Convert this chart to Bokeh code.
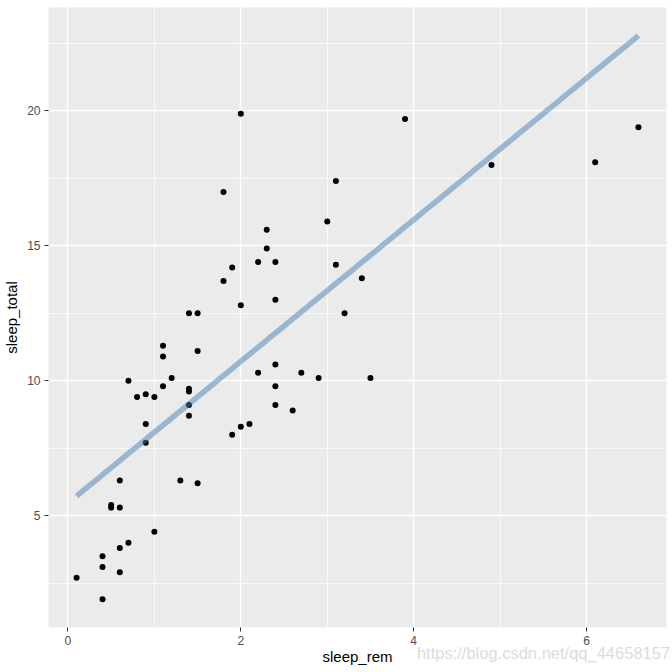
import numpy as np
from bokeh.plotting import figure
from bokeh.models import Range1d, FixedTicker, LinearAxis
from bokeh.embed import file_html
from bokeh.resources import INLINE

# data (msleep: sleep_rem vs sleep_total)
sleep_rem = [0.6, 1.3, 1.5, 0.5, 0.5, 0.6, 1.0, 0.7, 0.6, 0.4, 0.4, 0.6, 0.1, 0.4,
             1.4, 1.5, 1.1, 1.1, 1.5, 0.7, 1.2, 1.1, 1.4, 1.4, 0.8, 0.9, 1.0, 1.4, 1.4, 0.9, 0.9,
             1.8, 2.3, 2.3, 2.2, 2.4, 1.9, 1.8, 2.4, 2.0,
             2.4, 2.2, 2.7, 2.9, 3.5, 2.4, 2.4, 2.6, 2.1, 2.0, 1.9,
             3.1, 3.0, 3.1, 3.4, 3.2,
             2.0, 3.9, 4.9, 6.1, 6.6]
sleep_total = [6.3, 6.3, 6.2, 5.4, 5.3, 5.3, 4.4, 4.0, 3.8, 3.5, 3.1, 2.9, 2.7, 1.9,
               12.5, 12.5, 11.3, 10.9, 11.1, 10.0, 10.1, 9.8, 9.7, 9.6, 9.4, 9.5, 9.4, 9.1, 8.7, 8.4, 7.7,
               17.0, 15.6, 14.9, 14.4, 14.4, 14.2, 13.7, 13.0, 12.8,
               10.6, 10.3, 10.3, 10.1, 10.1, 9.8, 9.1, 8.9, 8.4, 8.3, 8.0,
               17.4, 15.9, 14.3, 13.8, 12.5,
               19.9, 19.7, 18.0, 18.1, 19.4]
x_ticks = [0, 2, 4, 6]
x_minor = [1, 3, 5]
y_ticks = [5, 10, 15, 20]
y_minor = [2.5, 7.5, 12.5, 17.5, 22.5]
watermark = "https://blog.csdn.net/qq_44658157"

x = np.array(sleep_rem)
y = np.array(sleep_total)
slope, intercept = np.polyfit(x, y, 1)
fx = np.linspace(x.min(), x.max(), 80)
fy = intercept + slope * fx

# ggplot-style expanded ranges
def expand(lo, hi, f=0.05):
    d = (hi - lo) * f
    return lo - d, hi + d

xlo, xhi = expand(x.min(), x.max())
ylo, yhi = expand(min(y.min(), fy.min()), max(y.max(), fy.max()))

p = figure(width=672, height=672, output_backend="svg", toolbar_location=None,
           x_range=Range1d(xlo, xhi), y_range=Range1d(ylo, yhi),
           min_border_left=46, min_border_right=8, min_border_top=7, min_border_bottom=0)
p.frame_width = 618
p.frame_height = 620
p.background_fill_color = "#EBEBEB"
p.border_fill_color = "white"
p.outline_line_color = None

xaxis = p.xaxis[0]
yaxis = p.yaxis[0]
xaxis.ticker = FixedTicker(ticks=x_ticks, minor_ticks=x_minor)
yaxis.ticker = FixedTicker(ticks=y_ticks, minor_ticks=y_minor)
for g in (p.xgrid, p.ygrid):
    g.grid_line_color = "white"
    g.grid_line_width = 1.4
    g.minor_grid_line_color = "white"
    g.minor_grid_line_width = 0.7

for ax in (xaxis, yaxis):
    ax.axis_line_color = None
    ax.minor_tick_line_color = None
    ax.major_tick_in = 0
    ax.major_tick_out = 4
    ax.major_tick_line_color = "#333333"
    ax.major_tick_line_width = 1
    ax.major_label_text_font = "Liberation Sans"
    ax.major_label_text_font_size = "12px"
    ax.major_label_text_color = "#4D4D4D"
    ax.axis_label_text_font = "Liberation Sans"
    ax.axis_label_text_font_size = "15px"
    ax.axis_label_text_font_style = "normal"
    ax.axis_label_text_color = "black"
    ax.major_label_standoff = 4
yaxis.axis_label_standoff = 4
yaxis.axis_label = "sleep_total"

# second (bottom) axis row: carries the x title and the watermark side by side
wm_pos = xlo + (541 - 46) / 618 * (xhi - xlo)
ax2 = LinearAxis(ticker=FixedTicker(ticks=[wm_pos]),
                 major_label_overrides={wm_pos: watermark})
ax2.axis_line_color = None
ax2.major_tick_line_color = None
ax2.minor_tick_line_color = None
ax2.major_tick_in = 0
ax2.major_tick_out = 0
ax2.major_label_standoff = -4
ax2.major_label_text_font = "Liberation Sans"
ax2.major_label_text_font_size = "16.5px"
ax2.major_label_text_color = "#DCDCDC"
ax2.axis_label = "sleep_rem"
ax2.axis_label_text_font = "Liberation Sans"
ax2.axis_label_text_font_size = "15px"
ax2.axis_label_text_font_style = "normal"
ax2.axis_label_text_color = "black"
ax2.axis_label_standoff = -17
p.add_layout(ax2, "below")

p.scatter(x, y, size=6, color="black", line_width=0)
p.line(fx, fy, line_color="steelblue", line_alpha=0.5, line_width=5.5, line_cap="butt")

open("out.html", "w").write(file_html(p, INLINE))
